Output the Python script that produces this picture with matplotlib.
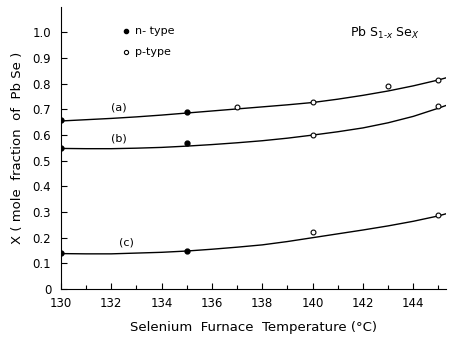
import numpy as np
import matplotlib.pyplot as plt

# measured points
a_n_x = [130, 135]
a_n_y = [0.66, 0.69]
a_p_x = [137, 140, 143, 145]
a_p_y = [0.71, 0.73, 0.79, 0.815]

b_n_x = [130, 135]
b_n_y = [0.55, 0.57]
b_p_x = [140, 145]
b_p_y = [0.60, 0.715]

c_n_x = [130, 135]
c_n_y = [0.14, 0.15]
c_p_x = [140, 145]
c_p_y = [0.223, 0.29]

# hand drawn curves
curve_x = [130, 131, 132, 133, 134, 135, 136, 137, 138, 139, 140, 141, 142, 143, 144, 145, 145.4]
curve_a = [0.655, 0.66, 0.665, 0.671, 0.678, 0.686, 0.694, 0.702, 0.71, 0.718, 0.727, 0.74, 0.755, 0.772, 0.792, 0.815, 0.826]
curve_b = [0.548, 0.547, 0.547, 0.549, 0.552, 0.557, 0.563, 0.57, 0.578, 0.588, 0.60, 0.613, 0.628, 0.648, 0.673, 0.705, 0.719]
curve_c = [0.138, 0.137, 0.137, 0.14, 0.143, 0.148, 0.155, 0.163, 0.172, 0.185, 0.20, 0.215, 0.23, 0.246, 0.264, 0.285, 0.296]

fig = plt.figure(figsize=(4.51, 3.42), dpi=100)
ax = fig.add_axes([0.135, 0.155, 0.854, 0.825])

for cy in [curve_a, curve_b, curve_c]:
    ax.plot(curve_x, cy, color='black', lw=1.0)

for nx, ny in [(a_n_x, a_n_y), (b_n_x, b_n_y), (c_n_x, c_n_y)]:
    ax.plot(nx, ny, 'o', color='black', ms=3.5)
for px, py in [(a_p_x, a_p_y), (b_p_x, b_p_y), (c_p_x, c_p_y)]:
    ax.plot(px, py, 'o', mfc='white', mec='black', ms=3.5, mew=0.8)

ax.text(132.3, 0.707, '(a)', fontsize=8, ha='center', va='center')
ax.text(132.3, 0.585, '(b)', fontsize=8, ha='center', va='center')
ax.text(132.6, 0.18, '(c)', fontsize=8, ha='center', va='center')

# legend
ax.plot([132.6], [1.007], 'o', color='black', ms=3)
ax.text(132.95, 1.007, 'n- type', fontsize=8, va='center')
ax.plot([132.6], [0.925], 'o', mfc='white', mec='black', ms=3, mew=0.8)
ax.text(132.95, 0.925, 'p-type', fontsize=8, va='center')

ax.text(141.5, 1.0, r'Pb S$_{1\text{-}x}$ Se$_X$', fontsize=9, va='center')

ax.set_xlim(130, 145.3)
ax.set_ylim(0, 1.1)
ax.set_xticks(np.arange(130, 145, 2))
ax.set_xticks(np.arange(130, 146, 1), minor=True)
ax.set_yticks(np.arange(0, 1.01, 0.1))
ax.set_yticklabels(['0', '0.1', '0.2', '0.3', '0.4', '0.5', '0.6', '0.7', '0.8', '0.9', '1.0'])
ax.tick_params(direction='in', labelsize=8.5, length=4, width=0.8)
ax.tick_params(axis='x', pad=6)
ax.tick_params(axis='y', pad=7)
ax.tick_params(which='minor', direction='in', length=3, width=0.8)
ax.spines['top'].set_visible(False)
ax.spines['right'].set_visible(False)

ax.set_xlabel('Selenium  Furnace  Temperature (°C)', fontsize=9.5, labelpad=8)
ax.set_ylabel('X ( mole  fraction  of  Pb Se )', fontsize=9.5, labelpad=6)

plt.savefig('out.png', dpi=100)
